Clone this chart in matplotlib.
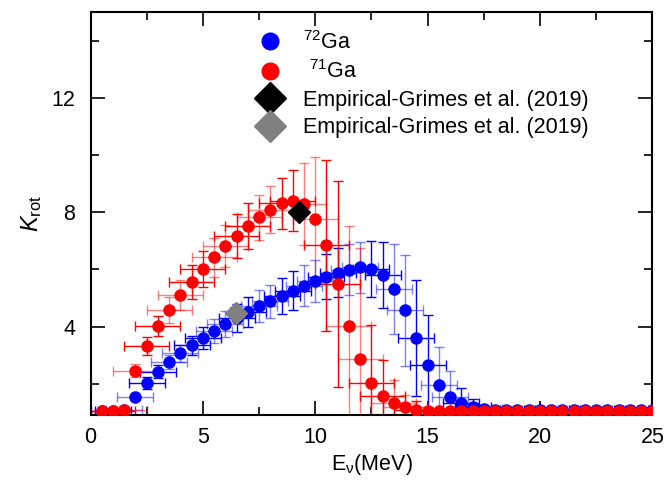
import numpy as np
import matplotlib
matplotlib.use("Agg")
import matplotlib.pyplot as plt

plt.rcParams['font.family'] = ['Liberation Sans', 'DejaVu Sans']
plt.rcParams['mathtext.fontset'] = 'custom'
plt.rcParams['mathtext.rm'] = 'Liberation Sans'
plt.rcParams['mathtext.it'] = 'Liberation Sans:italic'
plt.rcParams['mathtext.default'] = 'regular'

# excitation energy grid (MeV)
energy = [0.5, 1.0, 1.5, 2.0, 2.5, 3.0, 3.5, 4.0, 4.5, 5.0,
          5.5, 6.0, 6.5, 7.0, 7.5, 8.0, 8.5, 9.0, 9.5, 10.0,
          10.5, 11.0, 11.5, 12.0, 12.5, 13.0, 13.5, 14.0, 14.5, 15.0,
          15.5, 16.0, 16.5, 17.0, 17.5, 18.0, 18.5, 19.0, 19.5, 20.0,
          20.5, 21.0, 21.5, 22.0, 22.5, 23.0, 23.5, 24.0, 24.5, 25.0]

# 72Ga
k72 = [1.05, 1.05, 1.08, 1.53, 2.02, 2.42, 2.76, 3.06, 3.34, 3.60,
       3.84, 4.08, 4.30, 4.50, 4.71, 4.88, 5.07, 5.25, 5.43, 5.60,
       5.75, 5.89, 5.99, 6.07, 6.01, 5.80, 5.32, 4.57, 3.59, 2.66,
       1.97, 1.55, 1.31, 1.18, 1.12, 1.08, 1.08, 1.08, 1.08, 1.08,
       1.08, 1.08, 1.08, 1.08, 1.08, 1.08, 1.08, 1.08, 1.08, 1.08]
k72_err = [0.03, 0.03, 0.03, 0.06, 0.20, 0.22, 0.26, 0.30, 0.34, 0.38,
           0.42, 0.46, 0.50, 0.53, 0.56, 0.58, 0.62, 0.68, 0.72, 0.74,
           0.80, 0.85, 0.90, 0.90, 0.98, 1.15, 1.57, 1.95, 2.03, 1.76,
           1.33, 0.88, 0.53, 0.27, 0.12, 0.05, 0.05, 0.05, 0.05, 0.05,
           0.05, 0.05, 0.05, 0.05, 0.05, 0.05, 0.05, 0.05, 0.05, 0.05]
e72_err = 0.8

# 71Ga
k71 = [1.03, 1.03, 1.08, 2.45, 3.32, 4.03, 4.57, 5.10, 5.57, 6.02,
       6.43, 6.82, 7.17, 7.52, 7.82, 8.09, 8.32, 8.40, 8.29, 7.76,
       6.84, 5.49, 4.03, 2.86, 2.04, 1.57, 1.32, 1.18, 1.08, 1.03,
       1.03, 1.03, 1.03, 1.03, 1.03, 1.03, 1.03, 1.03, 1.03, 1.03,
       1.03, 1.03, 1.03, 1.03, 1.03, 1.03, 1.03, 1.03, 1.03, 1.03]
k71_err = [0.03, 0.03, 0.05, 0.23, 0.30, 0.35, 0.46, 0.53, 0.60, 0.64,
           0.68, 0.72, 0.76, 0.80, 0.80, 0.83, 0.89, 1.07, 1.45, 2.18,
           3.00, 3.60, 3.50, 3.90, 2.00, 1.27, 0.80, 0.43, 0.30, 0.15,
           0.08, 0.03, 0.03, 0.03, 0.03, 0.03, 0.03, 0.03, 0.03, 0.03,
           0.03, 0.03, 0.03, 0.03, 0.03, 0.03, 0.03, 0.03, 0.03, 0.03]
e71_err = 1.0

# empirical points (Grimes et al. 2019)
emp_black = (9.27, 8.02)
emp_gray = (6.48, 4.46)


def draw_series(ax, x, y, yerr, xerr, color, label):
    x = np.array(x)
    y = np.array(y)
    yerr = np.array(yerr)
    idx = np.arange(len(x))
    solid = (idx // 2) % 2 == 0
    for sel, a in [(solid, 1.0), (~solid, 0.5)]:
        ax.errorbar(x[sel], y[sel], yerr=yerr[sel], xerr=xerr, fmt='none',
                    ecolor=color, elinewidth=1.0, capsize=3.5, capthick=1.0,
                    alpha=a, zorder=2)
    ax.plot(x, y, 'o', color=color, markersize=8, zorder=3,
            label=label, clip_on=True)


fig = plt.figure(figsize=(6.67, 4.95), dpi=100)
ax = fig.add_axes([0.1357, 0.1626, 0.9780 - 0.1357, 0.9752 - 0.1626])

draw_series(ax, energy, k72, k72_err, e72_err, 'blue', r'$^{72}$Ga')
draw_series(ax, energy, k71, k71_err, e71_err, 'red', r' $^{71}$Ga')
ax.plot(*emp_black, 'D', color='black', markersize=11, zorder=4,
        label='Empirical-Grimes et al. (2019)')
ax.plot(*emp_gray, 'D', color='gray', markersize=11, zorder=4,
        label='Empirical-Grimes et al. (2019)')

ax.set_xlim(0, 25)
ax.set_ylim(0.92, 15)
ax.set_xticks([0, 5, 10, 15, 20, 25])
ax.set_xticks([2.5, 7.5, 12.5, 17.5, 22.5], minor=True)
ax.set_yticks([4, 8, 12])
ax.set_yticks([2, 6, 10, 14], minor=True)
ax.tick_params(which='both', direction='in', top=True, right=True,
               labelsize=15.5, width=1.2)
ax.tick_params(which='major', length=10)
ax.tick_params(axis='x', which='major', pad=9)
ax.tick_params(axis='y', which='major', pad=11)
ax.tick_params(which='minor', length=5.5)
for s in ax.spines.values():
    s.set_linewidth(1.5)

ax.set_xlabel(r'E$_{\nu}$(MeV)', fontsize=15.5, labelpad=3)
ax.set_ylabel(r'$\mathit{K}_{\mathrm{rot}}$', fontsize=17, labelpad=5)

leg = ax.legend(loc='upper left', bbox_to_anchor=(0.265, 0.975), frameon=False,
                fontsize=15.5, markerscale=1.5, handletextpad=0.55,
                labelspacing=0.3, borderaxespad=0)

fig.savefig('out.png', dpi=100)
